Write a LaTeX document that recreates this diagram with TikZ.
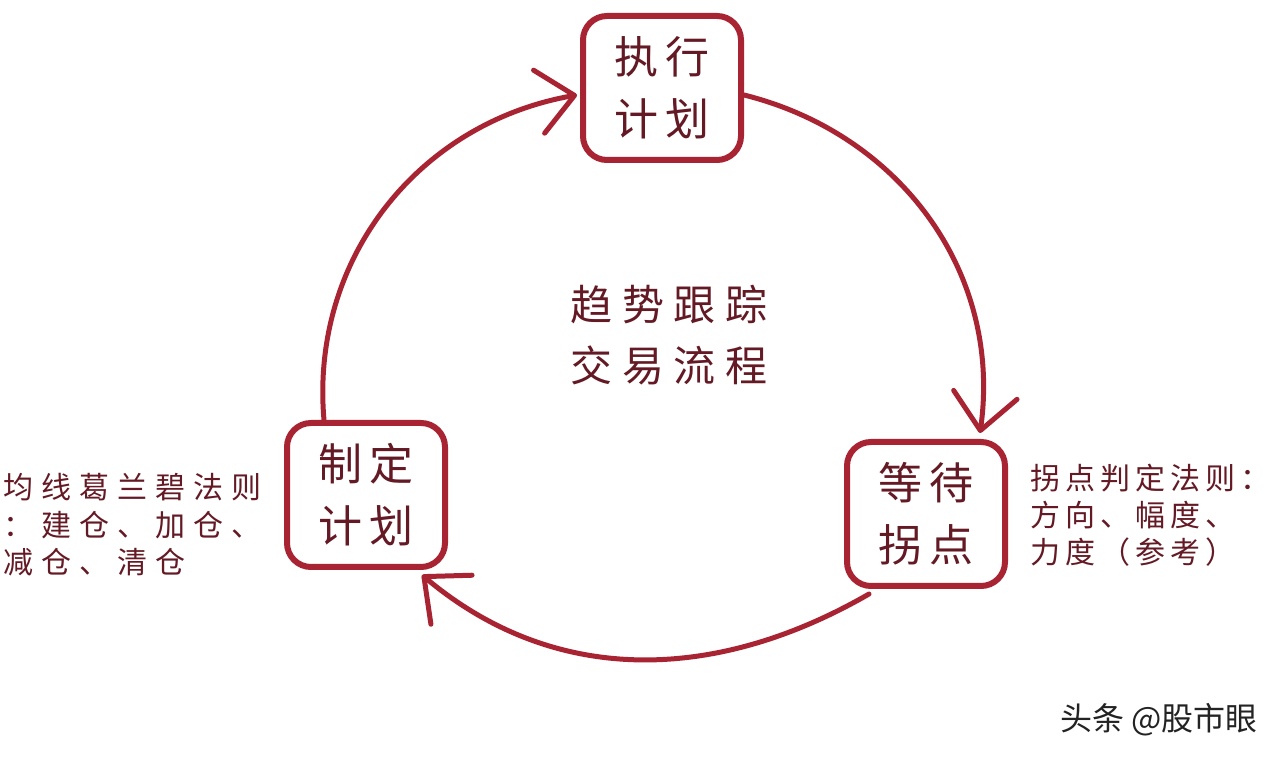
\documentclass[tikz,border=0pt]{standalone}
\usepackage{fontspec}
\newfontfamily\cjk{Noto Sans CJK SC}
\usetikzlibrary{arrows.meta,calc}
\definecolor{linered}{RGB}{168,36,50}
\definecolor{inkred}{RGB}{100,26,36}
\definecolor{markgray}{RGB}{35,35,35}
\newdimen\cjkgap
\def\spc#1#2\relax{#1\ifx\relax#2\relax\else\kern\cjkgap\spc#2\relax\fi}
\tikzset{
  stepbox/.style={draw=linered, line width=6pt, rounded corners=24pt,
    minimum width=158pt, minimum height=144pt, inner sep=0pt, align=center,
    text=inkred, font={\cjk\fontsize{44pt}{62pt}\selectfont\cjkgap=7pt}},
  flow/.style={draw=linered, line width=5pt, line cap=round,
    -{Straight Barb[length=36pt,width=64pt,round]}},
  note/.style={inner sep=0pt, align=left, text=inkred},
}
\begin{document}
\begin{tikzpicture}[x=1pt,y=1pt]
\fill[white] (0,0) rectangle (1280,760);
\useasboundingbox (0,0) rectangle (1280,760);

\node[stepbox] (exec) at (662,672) {\spc 执行\relax\\\spc 计划\relax};
\node[stepbox] (plan) at (366,265) {\spc 制定\relax\\\spc 计划\relax};
\node[stepbox] (wait) at (926,246) {\spc 等待\relax\\\spc 拐点\relax};

\node[inner sep=0pt, align=center, text=inkred,
  font={\cjk\fontsize{42pt}{61pt}\selectfont\cjkgap=10pt}] (title) at (669,425)
  {\spc 趋势跟踪\relax\\\spc 交易流程\relax};

\node[note, anchor=west, font={\cjk\fontsize{30pt}{37.5pt}\selectfont\cjkgap=8pt}]
  (rulea) at (3,235)
  {\spc 均线葛兰碧法则\relax\\\spc ：建仓、加仓、\relax\\\spc 减仓、清仓\relax};

\node[note, anchor=west, font={\cjk\fontsize{30pt}{37pt}\selectfont\cjkgap=5pt}]
  (ruleb) at (1030,245)
  {\spc 拐点判定法则：\relax\\\spc 方向、幅度、\relax\\\spc 力度（参考）\relax};

\node[inner sep=0pt, anchor=east, text=markgray,
  font={\cjk\fontsize{32pt}{32pt}\selectfont}] (mark) at (1258,40) {头条 @股市眼};

\draw[flow] ($(plan.north west)+(40,0)$) to[out=95,in=190] ($(exec.west)+(-3,-7)$);
\draw[flow] ($(exec.east)+(0,-7)$) to[out=-14,in=82] ($(wait.north)+(54,6)$);
\draw[flow] ($(wait.south west)+(25,-5)$) to[out=210,in=-40] ($(plan.south east)+(-26,-5)$);
\end{tikzpicture}
\end{document}
